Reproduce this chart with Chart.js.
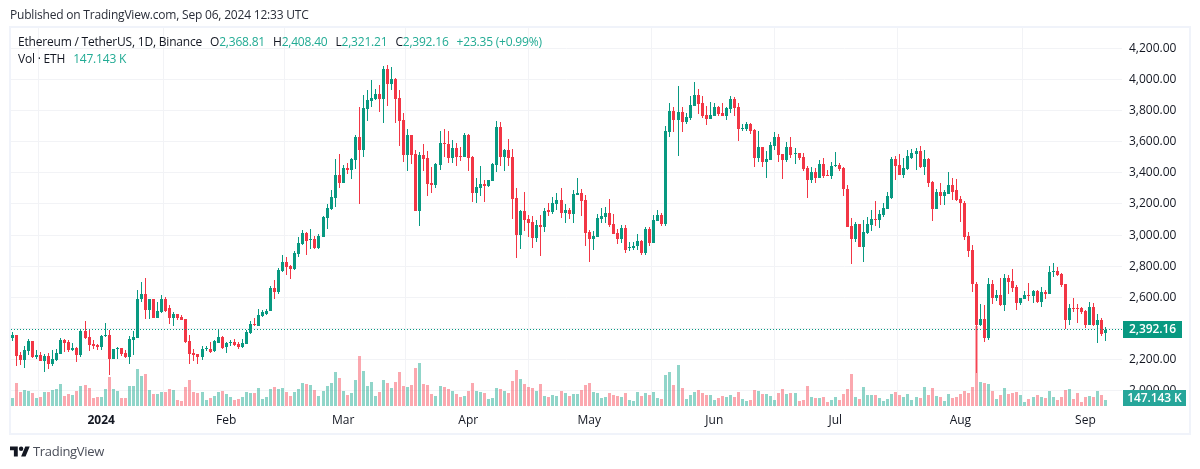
<!DOCTYPE html>
<html>
<head>
<meta charset="utf-8">
<title>ETHUSDT 1D</title>
<script src="https://cdn.jsdelivr.net/npm/chart.js@4/dist/chart.umd.min.js"></script>
<style>
  html, body { margin: 0; padding: 0; background: #fff; }
  body { width: 1200px; height: 469px; position: relative; overflow: hidden; font-family: 'Open Sans', sans-serif; font-size: 12px; color: #131722; }
  #frame { position: absolute; left: 9px; top: 26px; width: 1182px; height: 409px; box-sizing: border-box; border: 2px solid #f0f3fa; }
  canvas { position: absolute; left: 0; top: 0; }
  .txt { position: absolute; white-space: pre; line-height: 16px; letter-spacing: -0.2px; }
  .val { color: #22ab94; }
  .gap { margin-left: 8px; }
  .badge { position: absolute; color: #fff; font-weight: 600; text-align: center; line-height: 16px; letter-spacing: -0.1px; }
  #logo { position: absolute; left: 10px; top: 444px; }
</style>
</head>
<body>
<div id="frame"></div>
<canvas id="chart" width="1200" height="469"></canvas>
<div class="txt" style="left:10px;top:7px;color:#2a2e39">Published on TradingView.com, Sep 06, 2024 12:33 UTC</div>
<div class="txt" style="left:18px;top:34px">Ethereum / TetherUS, 1D, Binance<span class="gap">O</span><span class="val">2,368.81</span><span class="gap">H</span><span class="val">2,408.40</span><span class="gap">L</span><span class="val">2,321.21</span><span class="gap">C</span><span class="val">2,392.16</span><span class="val gap">+23.35 (+0.99%)</span></div>
<div class="txt" style="left:18px;top:51px">Vol · ETH<span class="val gap">147.143 K</span></div>
<div class="badge" style="left:1123px;top:321px;width:59px;height:17px;background:#089981">2,392.16</div>
<div class="badge" style="left:1123px;top:390px;width:63px;height:16px;background:#26a69a">147.143 K</div>
<svg id="logo" width="20" height="16" viewBox="0 0 36 28"><path fill="#131722" d="M14 22H7V11H0V4h14v18zM28 22h-8l7.5-18h8L28 22z"/><circle fill="#131722" cx="20" cy="8" r="4"/></svg>
<div class="txt" style="left:33px;top:443px;font-size:13px;letter-spacing:-0.3px;color:#4a4e59">TradingView</div>

<script>
// daily candles, Dec 10 2023 - Sep 06 2024
const opens = [
  2339,2359,2229,2197,2255,2320,2216,2229,2190,2223,
  2171,2197,2236,2326,2313,2262,2275,2229,2385,2346,
  2300,2294,2281,2352,2359,2203,2268,2275,2242,2216,
  2326,2339,2586,2624,2521,2586,2469,2508,2592,2534,
  2469,2495,2475,2462,2320,2242,2236,2216,2266,2268,
  2255,2307,2346,2281,2307,2313,2300,2281,2300,2372,
  2430,2417,2482,2495,2514,2663,2637,2769,2827,2801,
  2782,2878,2942,3013,2968,2974,2916,2987,3109,3167,
  3238,3385,3334,3430,3417,3482,3629,3546,3809,3861,
  3874,3906,3874,4066,3970,4002,3880,3739,3514,3642,
  3520,3154,3514,3495,3334,3321,3450,3591,3584,3495,
  3559,3507,3501,3642,3501,3270,3302,3328,3315,3347,
  3450,3694,3501,3546,3501,3238,3000,3154,3103,3083,
  2981,3064,3051,3159,3146,3198,3224,3140,3159,3133,
  3256,3269,3224,3017,2972,2985,3101,3114,3140,3069,
  3011,2972,3043,2915,2914,2927,2959,2882,3037,2946,
  3088,3127,3069,3662,3798,3740,3791,3727,3752,3830,
  3901,3849,3772,3746,3765,3823,3785,3765,3810,3875,
  3823,3681,3681,3714,3675,3494,3565,3469,3482,3572,
  3630,3519,3480,3564,3519,3525,3499,3428,3351,3403,
  3370,3454,3383,3377,3441,3448,3428,3299,3061,2977,
  3074,2925,3016,3067,3106,3100,3132,3170,3241,3487,
  3448,3383,3422,3493,3519,3538,3435,3487,3338,3170,
  3280,3248,3267,3319,3287,3235,3209,2996,2906,2687,
  2420,2461,2338,2687,2596,2616,2551,2725,2706,2667,
  2564,2590,2616,2609,2642,2571,2635,2622,2764,2771,
  2751,2687,2455,2532,2532,2532,2513,2422,2538,2422,
  2455,2368.81
];
const highs = [
  2378,2359,2249,2288,2333,2320,2262,2249,2236,2242,
  2262,2268,2339,2333,2326,2307,2281,2398,2450,2391,
  2326,2300,2359,2437,2391,2268,2281,2275,2262,2352,
  2385,2650,2696,2722,2592,2592,2573,2618,2599,2553,
  2508,2495,2488,2462,2359,2268,2236,2288,2288,2313,
  2326,2398,2352,2313,2326,2333,2313,2333,2391,2450,
  2469,2527,2521,2527,2670,2709,2788,2871,2859,2807,
  2897,2987,3032,3019,3038,2993,3006,3122,3199,3289,
  3488,3520,3450,3462,3495,3642,3822,3899,3931,3996,
  3938,3963,4085,4092,4079,4008,3931,3784,3681,3642,
  3546,3533,3584,3539,3437,3462,3668,3681,3668,3610,
  3591,3565,3655,3649,3507,3366,3443,3353,3353,3462,
  3732,3726,3552,3617,3552,3302,3161,3276,3128,3122,
  3096,3128,3173,3204,3243,3269,3301,3198,3172,3288,
  3365,3295,3256,3030,3024,3133,3172,3178,3230,3133,
  3037,3062,3062,2953,2953,3004,2966,3049,3049,3127,
  3159,3140,3701,3849,3823,3959,3823,3785,3894,3985,
  3940,3894,3830,3856,3849,3830,3849,3823,3894,3888,
  3849,3714,3727,3720,3681,3669,3565,3540,3598,3662,
  3649,3519,3596,3628,3557,3525,3525,3441,3435,3428,
  3480,3493,3416,3467,3532,3461,3435,3319,3112,3087,
  3074,3100,3119,3158,3222,3164,3203,3274,3499,3506,
  3519,3493,3545,3551,3557,3570,3545,3493,3345,3293,
  3332,3287,3403,3370,3358,3248,3222,3022,2938,2700,
  2558,2551,2725,2713,2648,2725,2751,2745,2783,2680,
  2596,2642,2693,2648,2648,2667,2648,2803,2822,2796,
  2758,2687,2558,2596,2558,2538,2519,2571,2564,2493,
  2467,2408.40
];
const lows = [
  2320,2158,2164,2145,2229,2210,2203,2190,2119,2138,
  2158,2190,2236,2249,2249,2255,2184,2216,2333,2255,
  2268,2262,2262,2346,2100,2203,2203,2223,2210,2171,
  2229,2339,2573,2462,2462,2469,2469,2501,2508,2430,
  2417,2456,2456,2307,2171,2190,2171,2197,2255,2242,
  2249,2307,2268,2242,2288,2288,2268,2275,2300,2365,
  2417,2417,2475,2488,2514,2592,2624,2762,2743,2717,
  2775,2859,2936,2871,2910,2910,2910,2987,3038,3161,
  3180,3302,3334,3392,3360,3424,3199,3501,3732,3822,
  3867,3790,3719,3829,3931,3719,3572,3469,3411,3456,
  3154,3058,3411,3250,3270,3302,3417,3501,3462,3462,
  3443,3475,3501,3411,3212,3206,3250,3212,3308,3347,
  3405,3443,3411,3443,3103,2852,2910,3026,2987,2916,
  2955,2865,3019,3120,3133,3159,3107,3075,3101,3075,
  3256,3120,2927,2824,2901,2985,3075,3075,3049,3004,
  2940,2946,2882,2895,2907,2901,2869,2869,2927,2946,
  3088,3056,3056,3630,3662,3507,3662,3714,3740,3830,
  3778,3752,3707,3746,3765,3765,3765,3740,3785,3765,
  3604,3669,3669,3649,3436,3469,3436,3365,3482,3546,
  3469,3358,3467,3493,3454,3480,3409,3241,3332,3332,
  3364,3370,3377,3358,3435,3409,3254,3054,2816,2958,
  2925,2829,3009,3029,3061,3048,3119,3170,3235,3351,
  3383,3370,3416,3487,3416,3428,3383,3306,3093,3170,
  3196,3196,3261,3228,3216,3087,2971,2861,2635,2111,
  2416,2313,2325,2558,2577,2545,2513,2622,2635,2519,
  2551,2590,2577,2564,2564,2538,2590,2622,2732,2738,
  2667,2396,2422,2506,2435,2493,2403,2422,2416,2306,
  2351,2321.21
];
const closes = [
  2359,2223,2197,2262,2320,2216,2229,2190,2223,2171,
  2203,2242,2326,2307,2262,2275,2229,2385,2339,2294,
  2288,2281,2352,2359,2203,2268,2275,2236,2216,2333,
  2346,2592,2624,2521,2586,2469,2514,2592,2514,2469,
  2495,2469,2456,2313,2236,2229,2216,2268,2270,2249,
  2320,2346,2275,2307,2313,2294,2281,2307,2378,2430,
  2424,2488,2508,2514,2663,2637,2775,2827,2794,2782,
  2884,2949,3013,2961,2974,2916,2993,3116,3173,3244,
  3385,3334,3430,3417,3488,3629,3546,3816,3867,3880,
  3906,3874,4066,3970,4002,3874,3732,3514,3642,3514,
  3154,3514,3488,3328,3321,3456,3591,3584,3495,3559,
  3501,3501,3642,3495,3270,3308,3328,3315,3353,3456,
  3694,3501,3546,3495,3231,3000,3154,3096,3077,2981,
  3064,3051,3154,3146,3204,3224,3140,3159,3133,3262,
  3269,3217,3011,2972,2991,3107,3120,3140,3062,3004,
  2972,3043,2907,2920,2933,2959,2882,3037,2946,3095,
  3127,3069,3669,3798,3740,3791,3727,3759,3836,3901,
  3843,3765,3746,3772,3823,3778,3765,3817,3875,3817,
  3681,3688,3714,3669,3494,3565,3469,3488,3578,3630,
  3514,3480,3564,3512,3525,3493,3422,3351,3403,3370,
  3454,3377,3377,3441,3448,3422,3293,3054,2977,3074,
  2925,3022,3074,3106,3100,3138,3177,3248,3487,3441,
  3383,3428,3506,3525,3538,3435,3487,3332,3170,3280,
  3248,3274,3319,3280,3228,3203,2990,2900,2687,2420,
  2461,2338,2687,2596,2616,2551,2725,2700,2661,2564,
  2596,2616,2609,2642,2571,2635,2622,2764,2771,2745,
  2680,2455,2532,2525,2525,2506,2422,2538,2422,2455,
  2364,2392.16
];
// volume in thousands of ETH
const volumes = [
  196,564,343,392,368,319,196,221,343,343,
  392,417,539,245,294,270,368,490,515,441,
  196,221,221,417,711,417,368,196,196,490,
  490,907,735,784,392,294,294,343,343,417,
  392,147,123,466,637,343,319,343,147,196,
  245,343,368,294,221,147,172,221,343,319,
  319,441,172,221,417,466,417,441,343,245,
  343,417,564,539,515,392,245,368,490,564,
  833,686,368,270,319,637,1226,858,490,588,
  245,343,637,564,441,588,833,490,466,515,
  931,1054,539,515,294,245,490,466,417,368,
  294,221,245,368,564,368,343,319,172,196,
  441,417,368,319,613,882,662,539,466,441,
  368,539,245,221,270,245,368,319,245,294,
  294,392,515,564,343,319,196,221,319,270,
  245,221,319,147,123,343,245,319,270,343,
  196,172,760,833,515,1005,441,172,270,343,
  392,319,270,270,147,196,245,221,270,221,
  343,172,123,147,392,368,294,294,245,147,
  319,417,294,319,319,123,147,490,221,196,
  196,221,98,147,221,147,294,417,784,221,
  172,466,270,270,270,196,123,172,294,343,
  270,221,294,147,221,196,466,270,441,245,
  221,123,294,196,221,294,368,319,466,1960,
  588,564,539,368,172,270,441,294,319,343,
  270,98,172,221,270,221,196,368,221,147,
  221,392,417,172,319,98,221,245,221,368,
  270,147.143
];
const monthTicks = [22, 53, 82, 113, 143, 174, 204, 235, 266];
const monthLabels = ['2024', 'Feb', 'Mar', 'Apr', 'May', 'Jun', 'Jul', 'Aug', 'Sep'];
const priceTicks = [2000, 2200, 2400, 2600, 2800, 3000, 3200, 3400, 3600, 3800, 4000, 4200];
const lastPrice = 2392.16;

const UP = '#089981';
const DOWN = '#f23645';
const VOL_UP = 'rgba(34, 171, 148, 0.5)';
const VOL_DOWN = 'rgba(247, 82, 95, 0.5)';
const GRID = '#f2f3f6';
const FONT = 'Open Sans';

const X_MIN = -0.35;
const X_MAX = 275.06;

const isUp = closes.map((c, i) => c >= opens[i]);

// keep bars and the price line on whole pixels so they stay crisp like the original
const snapMarks = {
  id: 'snapMarks',
  beforeDatasetsDraw(chart) {
    chart.getSortedVisibleDatasetMetas().forEach(meta => {
      meta.data.forEach(el => {
        if (meta.type === 'line') {
          el.x = Math.round(el.x);
          el.y = Math.floor(el.y) + 0.5;
          return;
        }
        el.x = Math.floor(el.x) + 0.5;
        el.y = Math.round(el.y);
        el.base = Math.round(el.base);
        if (el.y === el.base) el.y -= 1;
      });
    });
  }
};

new Chart(document.getElementById('chart'), {
  type: 'bar',
  plugins: [snapMarks],
  data: {
    datasets: [
      {
        type: 'line',
        data: [{ x: X_MIN, y: lastPrice }, { x: X_MAX, y: lastPrice }],
        yAxisID: 'y',
        borderColor: UP,
        borderWidth: 1,
        borderDash: [1, 2],
        pointRadius: 0,
        order: 0
      },
      {
        data: volumes.map((v, i) => ({ x: i, y: v })),
        yAxisID: 'vol',
        backgroundColor: isUp.map(u => u ? VOL_UP : VOL_DOWN),
        barThickness: 3,
        order: 1
      },
      {
        data: opens.map((o, i) => ({ x: i, y: [Math.min(o, closes[i]), Math.max(o, closes[i])] })),
        yAxisID: 'y',
        backgroundColor: isUp.map(u => u ? UP : DOWN),
        barThickness: 3,
        order: 2
      },
      {
        data: highs.map((h, i) => ({ x: i, y: [lows[i], h] })),
        yAxisID: 'y',
        backgroundColor: isUp.map(u => u ? UP : DOWN),
        barThickness: 1,
        order: 3
      }
    ]
  },
  options: {
    responsive: false,
    devicePixelRatio: 1,
    animation: false,
    layout: { padding: { left: 11, top: 28, right: 12, bottom: 36 } },
    datasets: { bar: { grouped: false, inflateAmount: 0 } },
    plugins: { legend: { display: false }, tooltip: { enabled: false } },
    scales: {
      x: {
        type: 'linear',
        min: X_MIN,
        max: X_MAX,
        offset: false,
        afterBuildTicks: scale => { scale.ticks = monthTicks.map(v => ({ value: v })); },
        afterFit: scale => { scale.height = 26; },
        grid: { color: GRID, drawTicks: false },
        border: { display: false },
        ticks: {
          autoSkip: false,
          maxRotation: 0,
          padding: 6,
          color: '#131722',
          font: ctx => ({ family: FONT, size: 12, weight: ctx.index === 0 ? 'bold' : 'normal' }),
          callback: (v, i) => monthLabels[i]
        }
      },
      y: {
        position: 'right',
        min: 1895,
        max: 4331,
        afterBuildTicks: scale => { scale.ticks = priceTicks.map(v => ({ value: v })); },
        afterFit: scale => { scale.width = 66; },
        grid: { color: GRID, drawTicks: false },
        border: { display: false },
        ticks: {
          autoSkip: false,
          padding: 7,
          color: '#131722',
          font: { family: FONT, size: 12 },
          callback: v => v.toLocaleString('en-US', { minimumFractionDigits: 2, maximumFractionDigits: 2 })
        }
      },
      vol: { display: false, position: 'right', min: -24.5, max: 9261 }
    }
  }
});
</script>
</body>
</html>
